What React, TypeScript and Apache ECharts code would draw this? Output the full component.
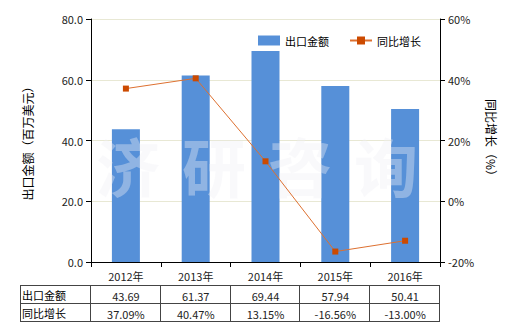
import React, { useEffect, useRef } from "react";
import * as echarts from "echarts";

const categories = ["2012年", "2013年", "2014年", "2015年", "2016年"];
const exportValues = [43.69, 61.37, 69.44, 57.94, 50.41];
const growthValues = [37.09, 40.47, 13.15, -16.56, -13.0];
const seriesNames = ["出口金额", "同比增长"];
const watermarkChars = ["济", "研", "咨", "询"];

const FONT = "Noto Sans CJK SC";
const GRID = { left: 91, right: 80, top: 19, bottom: 68 };
const W = 520;

export default function App() {
  const ref = useRef<HTMLDivElement>(null);
  useEffect(() => {
    if (!ref.current) return;
    const chart = echarts.init(ref.current, null, { renderer: "svg" });
    const plotW = W - GRID.left - GRID.right;
    const colW = plotW / categories.length;
    const tableTop = 285;
    const rowH = 18;
    const tableLeft = 20;
    const tableRight = GRID.left + plotW - 1;
    const lineStyle = { stroke: "#444", lineWidth: 1 };
    const graphics: any[] = [];
    for (let r = 0; r <= 2; r++) {
      const y = tableTop + r * rowH + 0.5;
      graphics.push({ type: "line", shape: { x1: tableLeft, y1: y, x2: tableRight, y2: y }, style: lineStyle, silent: true });
    }
    const xs = [tableLeft, GRID.left - 1];
    for (let i = 1; i <= categories.length; i++) xs.push(Math.round(GRID.left + i * colW) - 1);
    xs.forEach((x) => {
      graphics.push({ type: "line", shape: { x1: x + 0.5, y1: tableTop, x2: x + 0.5, y2: tableTop + 2 * rowH + 1 }, style: lineStyle, silent: true });
    });
    const rows = [
      exportValues.map((v) => v.toFixed(2)),
      growthValues.map((v) => v.toFixed(2) + "%"),
    ];
    rows.forEach((row, r) => {
      const cy = tableTop + r * rowH + rowH / 2 + 1;
      graphics.push({ type: "text", x: tableLeft + 2, y: cy, style: { text: seriesNames[r], fontFamily: FONT, fontSize: 11, fill: "#000", textVerticalAlign: "middle", textAlign: "left" }, silent: true });
      row.forEach((t, i) => {
        graphics.push({ type: "text", x: GRID.left + (i + 0.5) * colW, y: cy + 1, style: { text: t, fontFamily: FONT, fontSize: 11, fill: "#222", textVerticalAlign: "middle", textAlign: "center" }, silent: true });
      });
    });
    watermarkChars.forEach((c, i) => {
      graphics.push({ type: "text", x: 128 + i * 86, y: 164, z: 5, style: { text: c, fontFamily: "Noto Sans CJK JP", fontWeight: 700, fontSize: 64, fill: "rgba(240,240,245,0.38)", textAlign: "center", textVerticalAlign: "middle" }, silent: true });
    });

    chart.setOption({
      animation: false,
      textStyle: { fontFamily: FONT },
      grid: { ...GRID, containLabel: false },
      legend: {
        data: [
          { name: seriesNames[0], icon: "rect" },
          { name: seriesNames[1] },
        ],
        left: 253,
        top: 30,
        itemWidth: 22,
        itemHeight: 10,
        itemGap: 20,
        textStyle: { fontSize: 11, color: "#000" },
      },
      xAxis: {
        type: "category",
        data: categories,
        axisLine: { lineStyle: { color: "#000" } },
        axisTick: { show: true, alignWithLabel: false, lineStyle: { color: "#000" } },
        axisLabel: { fontSize: 11, color: "#222", margin: 8 },
      },
      yAxis: [
        {
          type: "value",
          min: 0,
          max: 80,
          interval: 20,
          name: "出口金额（百万美元）",
          nameLocation: "middle",
          nameGap: 58,
          nameRotate: 90,
          nameTextStyle: { fontSize: 12, color: "#000" },
          axisLine: { show: true, lineStyle: { color: "#000" } },
          axisTick: { show: true, lineStyle: { color: "#000" } },
          axisLabel: { fontSize: 11, color: "#222", formatter: (v: number) => v.toFixed(1) },
          splitLine: { lineStyle: { color: "#e8e8d4" } },
        },
        {
          type: "value",
          min: -20,
          max: 60,
          interval: 20,
          name: "同比增长（%）",
          nameLocation: "middle",
          nameGap: 45,
          nameRotate: -90,
          nameTextStyle: { fontSize: 12, color: "#000" },
          axisLine: { show: true, lineStyle: { color: "#000" } },
          axisTick: { show: true, lineStyle: { color: "#000" } },
          axisLabel: { fontSize: 11, color: "#222", formatter: "{value}%" },
          splitLine: { show: false },
        },
      ],
      series: [
        {
          name: seriesNames[0],
          type: "bar",
          data: exportValues,
          barWidth: 28,
          itemStyle: { color: "#5690d8" },
        },
        {
          name: seriesNames[1],
          type: "line",
          yAxisIndex: 1,
          z: 10,
          data: growthValues,
          symbol: "rect",
          symbolSize: 6,
          itemStyle: { color: "#cc4a00" },
          lineStyle: { color: "#dd7030", width: 1 },
        },
      ],
      graphic: graphics,
    });
    return () => chart.dispose();
  }, []);
  return <div ref={ref} style={{ width: 520, height: 330, position: "absolute", left: 0, top: 0 }} />;
}
